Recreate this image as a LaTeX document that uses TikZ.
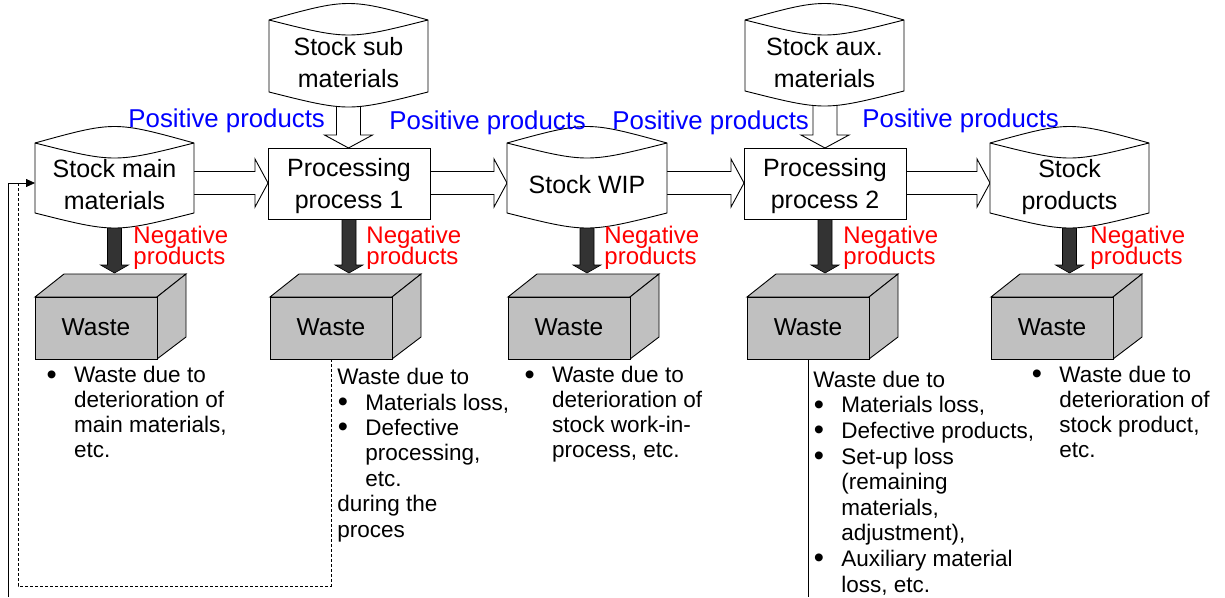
\documentclass[tikz,border=0pt]{standalone}
\usepackage{fontspec}
\setmainfont{Liberation Sans}
\usetikzlibrary{arrows.meta}
\definecolor{posblue}{RGB}{0,0,255}
\definecolor{negred}{RGB}{255,0,0}
\definecolor{cubegray}{RGB}{192,192,192}
\definecolor{darkfill}{RGB}{51,51,51}
\newcommand\DrumShape[4]{%
  \draw[shapebox] (#1,#3) .. controls ({(#1+#2)/2},{#3-22}) .. (#2,#3) -- (#2,#4) .. controls ({(#1+#2)/2},{#4+20}) .. (#1,#4) -- cycle;
  \draw (#1,#3) .. controls ({(#1+#2)/2},{#3+20}) .. (#2,#3);}
\newcommand\WasteCube[2]{%
  \draw[cubeface] (#1,297) -- ({#1+29},274) -- ({#1+151},274) -- ({#1+122},297) -- cycle;
  \draw[cubeface] ({#1+122},297) -- ({#1+151},274) -- ({#1+151},337) -- ({#1+122},359) -- cycle;
  \draw[cubeface] (#1,297) rectangle ({#1+122},359);
  \node[wastelbl] (#2) at ({#1+61},335) {Waste};
  \coordinate (#2-s) at ({#1+61},359);}
\newcommand\HollowRight[3]{%
  \draw[hollow] (#1,{#3-11.5}) -- ({#2-13},{#3-11.5}) -- ({#2-13},{#3-24}) -- (#2,#3) -- ({#2-13},{#3+24}) -- ({#2-13},{#3+11.5}) -- (#1,{#3+11.5}) -- cycle;}
\newcommand\HollowDown[3]{%
  \draw[hollow] ({#1-12},#2) -- ({#1-12},{#3-13}) -- ({#1-24},{#3-13}) -- (#1,#3) -- ({#1+24},{#3-13}) -- ({#1+12},{#3-13}) -- ({#1+12},#2) -- cycle;}
\newcommand\DarkDown[2]{%
  \draw[darkarrow] ({#1-7},#2) -- ({#1-7},265) -- ({#1-14},265) -- (#1,273) -- ({#1+14},265) -- ({#1+7},265) -- ({#1+7},#2) -- cycle;}
\newcommand\BulletCol{\makebox[28pt][l]{\hspace{0.5pt}\raisebox{-1.5pt}{\fontsize{29}{29}\selectfont\textbullet}}}
\newcommand\IndentCol{\hspace*{28pt}}
\begin{document}
\begin{tikzpicture}[x=1pt,y=-1pt,line width=0.9pt,
  shapebox/.style={draw=black,fill=white},
  cubeface/.style={draw=black,fill=cubegray},
  hollow/.style={draw=black,fill=white},
  darkarrow/.style={draw=black,fill=darkfill,line width=0.6pt},
  lbl/.style={font={\fontsize{25}{32}\selectfont\lineskiplimit=-50pt},align=center,anchor=base,inner sep=0pt},
  wastelbl/.style={font={\fontsize{24.5}{28}\selectfont},anchor=base,inner sep=0pt},
  poslbl/.style={font={\fontsize{25.8}{30}\selectfont},text=posblue,anchor=base west,inner sep=0pt},
  neglbl/.style={font={\fontsize{24}{21}\selectfont\lineskiplimit=-50pt},text=negred,align=left,anchor=base west,inner sep=0pt},
  blt/.style={font={\fontsize{22.5}{24.7}\selectfont\lineskiplimit=-50pt},align=left,anchor=base west,inner sep=0pt},
  feedback/.style={line width=0.8pt},
  dashedline/.style={line width=0.8pt,dash pattern=on 3pt off 2pt}]
\useasboundingbox (0,0) rectangle (1225,597);
% block arrows
\HollowRight{190}{268}{183}
\HollowRight{428}{507}{183}
\HollowRight{664}{744}{183}
\HollowRight{904}{990}{183}
\HollowDown{348.5}{95}{148}
\HollowDown{825}{85}{148}
\DarkDown{114.5}{215}
\DarkDown{349}{215}
\DarkDown{587}{215}
\DarkDown{825}{215}
\DarkDown{1069.5}{215}
% stocks and processes
\DrumShape{35}{194}{143}{213}
\DrumShape{269}{428}{20}{92}
\DrumShape{507}{667}{143}{213}
\DrumShape{745}{904}{20}{91}
\DrumShape{990}{1149}{143}{213}
\draw[shapebox] (268,148) rectangle (430,219);
\draw[shapebox] (744,148) rectangle (906,219);
% multi-line nodes: base anchor = last line baseline
\node[lbl] (smain) at (114.5,209) {Stock main\\materials};
\node[lbl] (ssub) at (348.5,87) {Stock sub\\materials};
\node[lbl] (proc1) at (349,208) {Processing\\process 1};
\node[lbl] (swip) at (587,193) {Stock WIP};
\node[lbl] (saux) at (824.5,87) {Stock aux.\\materials};
\node[lbl] (proc2) at (825,208) {Processing\\process 2};
\node[lbl] (sprod) at (1069.5,209) {Stock\\products};
% positive / negative labels
\node[poslbl] (pos1) at (128,127) {Positive products};
\node[poslbl] (pos2) at (389,129) {Positive products};
\node[poslbl] (pos3) at (612,129) {Positive products};
\node[poslbl] (pos4) at (862,127) {Positive products};
\node[neglbl] (neg1) at (133,264) {Negative\\products};
\node[neglbl] (neg2) at (366,264) {Negative\\products};
\node[neglbl] (neg3) at (604,264) {Negative\\products};
\node[neglbl] (neg4) at (843,264) {Negative\\products};
\node[neglbl] (neg5) at (1090,264) {Negative\\products};
% waste cubes
\WasteCube{35}{w1}
\WasteCube{270}{w2}
\WasteCube{508}{w3}
\WasteCube{747}{w4}
\WasteCube{991}{w5}
% descriptions
\node[blt] (d1) at (45.6,457) {\BulletCol Waste due to\\\IndentCol deterioration of\\\IndentCol main materials,\\\IndentCol etc.};
\node[blt,font={\fontsize{22.5}{25.4}\selectfont\lineskiplimit=-50pt}] (d2) at (337,537) {Waste due to\\\BulletCol Materials loss,\\\BulletCol Defective\\\IndentCol processing,\\\IndentCol etc.\\during the\\proces};
\node[blt] (d3) at (523.6,457) {\BulletCol Waste due to\\\IndentCol deterioration of\\\IndentCol stock work-in-\\\IndentCol process, etc.};
\node[blt,font={\fontsize{22.5}{25.6}\selectfont\lineskiplimit=-50pt}] (d4) at (813,592) {Waste due to\\\BulletCol Materials loss,\\\BulletCol Defective products,\\\BulletCol Set-up loss\\\IndentCol (remaining\\\IndentCol materials,\\\IndentCol adjustment),\\\BulletCol Auxiliary material\\\IndentCol loss, etc.};
\node[blt,font={\fontsize{22.5}{25}\selectfont\lineskiplimit=-50pt}] (d5) at (1031,457) {\BulletCol Waste due to\\\IndentCol deterioration of\\\IndentCol stock product,\\\IndentCol etc.};
% connectors
\coordinate (fbstart) at (8,597);
\coordinate (smainw) at (35,183);
\coordinate (fbjoin) at (18,183);
\coordinate (dcorner) at (331,586);
\coordinate (w4end) at (808,597);
\draw[feedback,-{Triangle[length=9pt,width=8pt]}] (fbstart) |- (smainw);
\draw[dashedline] (w2-s) -- (dcorner) -| (fbjoin);
\draw[feedback] (w4-s) -- (w4end);
\end{tikzpicture}
\end{document}
